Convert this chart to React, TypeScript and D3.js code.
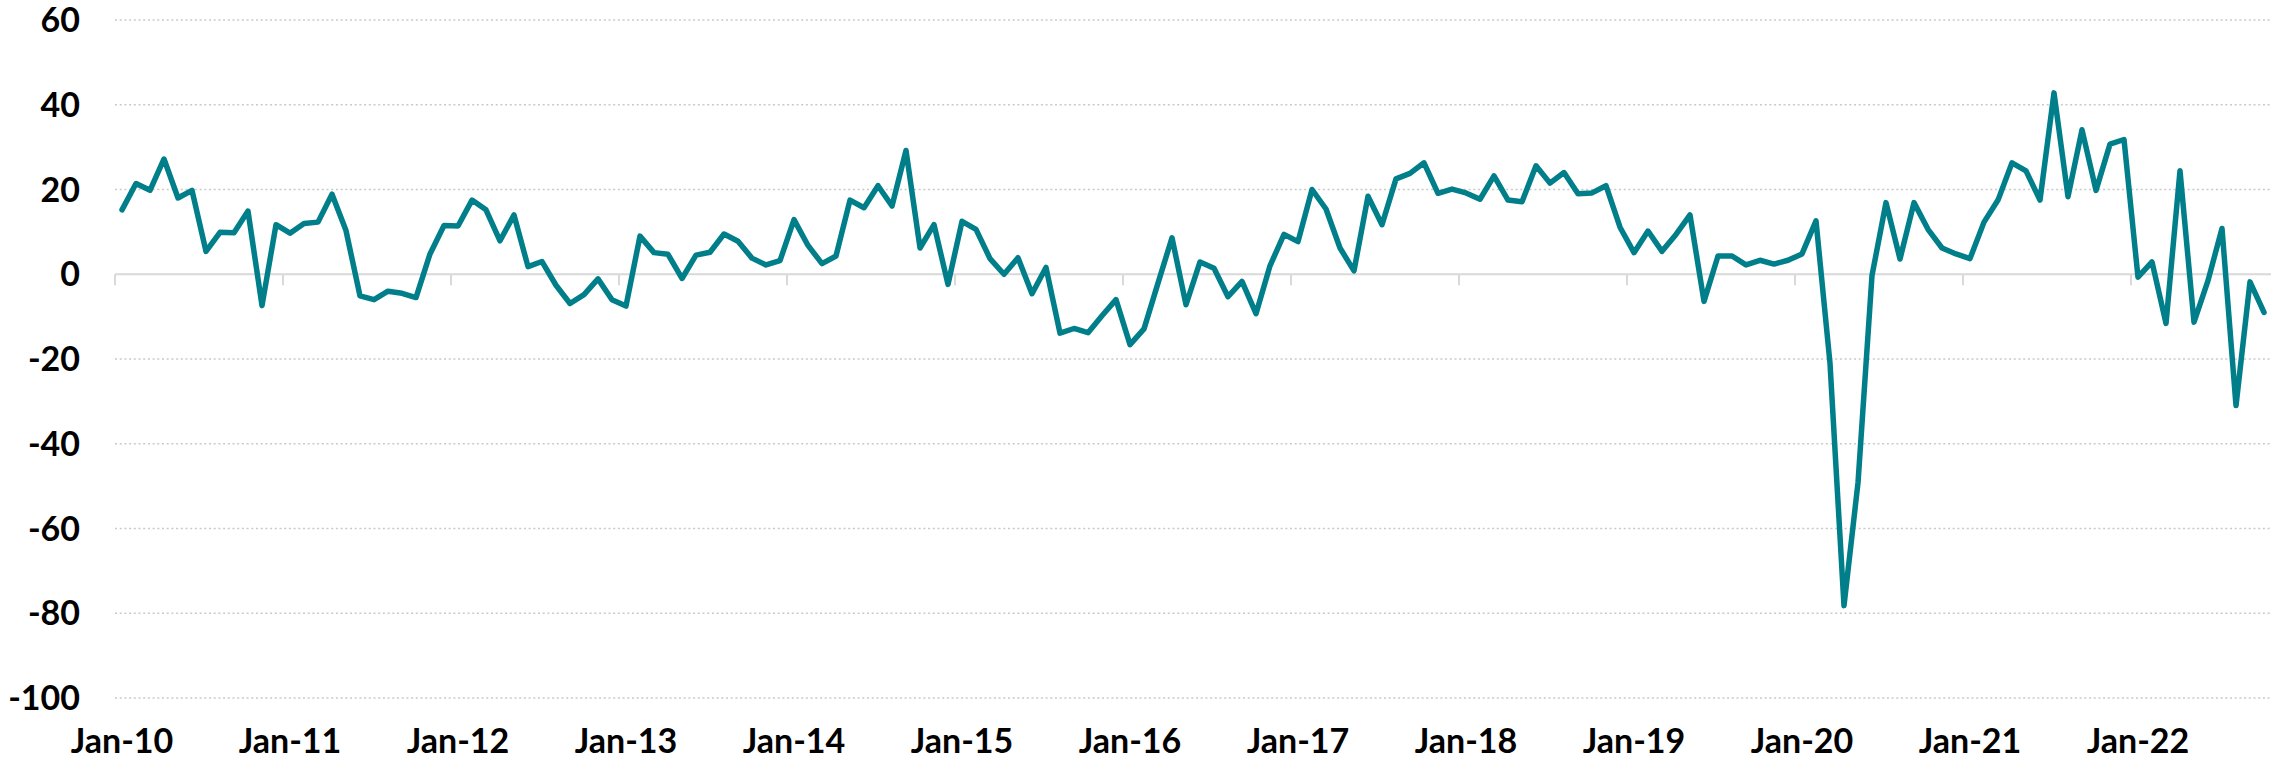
import * as d3 from "d3";

const years = ["10", "11", "12", "13", "14", "15", "16", "17", "18", "19", "20", "21", "22"];

// monthly values, Jan-10 .. Oct-22
const v2010 = [15.2, 21.4, 19.8, 27.2, 18.0, 19.8, 5.4, 9.9, 9.8, 14.9, -7.4, 11.7];
const v2011 = [9.7, 12.0, 12.3, 18.9, 10.3, -5.1, -6.0, -4.0, -4.5, -5.5, 4.8, 11.5];
const v2012 = [11.4, 17.5, 15.2, 7.9, 14.0, 1.8, 3.0, -2.6, -6.9, -4.8, -1.1, -6.0];
const v2013 = [-7.5, 9.0, 5.1, 4.7, -1.0, 4.5, 5.2, 9.5, 7.8, 3.8, 2.2, 3.2];
const v2014 = [12.9, 6.8, 2.5, 4.3, 17.5, 15.7, 20.9, 16.1, 29.2, 6.2, 11.7, -2.4];
const v2015 = [12.5, 10.6, 3.7, 0.0, 3.9, -4.6, 1.6, -13.9, -12.8, -13.8, -9.8, -6.0];
const v2016 = [-16.6, -12.9, -2.1, 8.6, -7.2, 2.9, 1.4, -5.3, -1.7, -9.3, 2.0, 9.4];
const v2017 = [7.7, 20.0, 15.4, 6.2, 0.8, 18.4, 11.7, 22.5, 23.8, 26.3, 19.1, 20.1];
const v2018 = [19.2, 17.7, 23.2, 17.5, 17.1, 25.6, 21.5, 24.0, 19.0, 19.2, 20.9, 11.1];
const v2019 = [5.1, 10.2, 5.4, 9.4, 14.0, -6.4, 4.3, 4.3, 2.2, 3.3, 2.4, 3.3];
const v2020 = [4.8, 12.6, -21.0, -78.2, -49.2, -0.3, 16.9, 3.6, 16.9, 10.6, 6.2, 4.8];
const v2021 = [3.7, 12.3, 17.5, 26.3, 24.4, 17.5, 42.8, 18.3, 34.1, 19.8, 30.7, 31.8];
const v2022 = [-0.7, 2.9, -11.6, 24.4, -11.3, -1.5, 10.8, -31.0, -1.8, -9.0];

const values = [
  ...v2010, ...v2011, ...v2012, ...v2013, ...v2014, ...v2015, ...v2016,
  ...v2017, ...v2018, ...v2019, ...v2020, ...v2021, ...v2022,
];

const yTicks = [60, 40, 20, 0, -20, -40, -60, -80, -100];

const W = 2282;
const H = 764;
const font = "Lato, 'Open Sans', sans-serif";

export default function App() {
  const idx = values.map((_, i) => i);
  const x = d3.scaleBand<number>().domain(idx).range([115, 2271]);
  const cx = (i: number) => (x(i) as number) + x.bandwidth() / 2;
  const y = d3.scaleLinear().domain([-100, 60]).range([698, 20]);

  const line = d3
    .line<number>()
    .x((_, i) => cx(i))
    .y((d) => y(d));

  const yearStarts = idx.filter((i) => i % 12 === 0);

  return (
    <svg width={W} height={H} style={{ position: "absolute", left: 0, top: 0 }}>
      <rect width={W} height={H} fill="#fff" />
      {/* gridlines */}
      {yTicks
        .filter((t) => t !== 0)
        .map((t) => (
          <line
            key={t}
            x1={115}
            x2={2271}
            y1={y(t)}
            y2={y(t)}
            stroke="#c9c9c9"
            strokeWidth={1.5}
            strokeDasharray="2,2.7"
          />
        ))}
      {/* zero axis with year ticks */}
      <line x1={115} x2={2271} y1={y(0)} y2={y(0)} stroke="#d9d9d9" strokeWidth={2} />
      {yearStarts.map((i) => (
        <line
          key={i}
          x1={x(i) as number}
          x2={x(i) as number}
          y1={y(0)}
          y2={y(0) + 11}
          stroke="#d9d9d9"
          strokeWidth={2}
        />
      ))}
      {/* y labels */}
      {yTicks.map((t) => (
        <text
          key={t}
          x={80}
          y={y(t)}
          dy="0.36em"
          textAnchor="end"
          fontFamily={font}
          fontWeight="bold"
          fontSize={34}
          fill="#000"
        >
          {t}
        </text>
      ))}
      {/* x labels */}
      {yearStarts.map((i, k) => (
        <text
          key={i}
          x={cx(i)}
          y={753}
          textAnchor="middle"
          fontFamily={font}
          fontWeight="bold"
          fontSize={34}
          fill="#000"
        >
          {`Jan-${years[k]}`}
        </text>
      ))}
      <path
        d={line(values) ?? ""}
        fill="none"
        stroke="#007f8a"
        strokeWidth={5.5}
        strokeLinejoin="round"
        strokeLinecap="round"
      />
    </svg>
  );
}
